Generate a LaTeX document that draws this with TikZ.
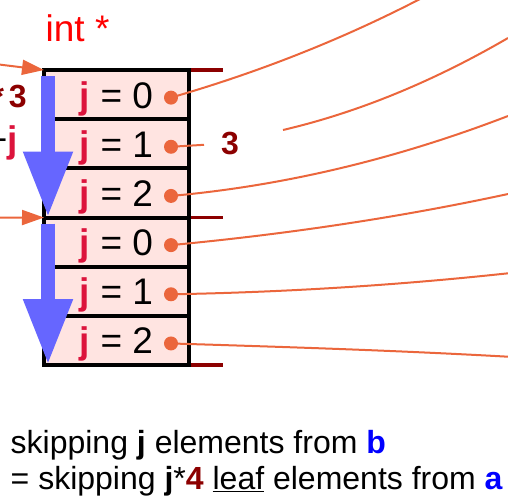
\documentclass[tikz,border=0pt]{standalone}
\usepackage{fontspec}
\setmainfont{Liberation Sans}
\usetikzlibrary{arrows.meta,positioning}
\definecolor{ptrorange}{RGB}{235,102,60}
\definecolor{cellpink}{RGB}{255,228,225}
\definecolor{stepblue}{RGB}{102,102,255}
\definecolor{darkred}{RGB}{140,0,0}
\definecolor{idxred}{RGB}{220,20,60}
\definecolor{typered}{RGB}{255,0,0}

\begin{document}
\begin{tikzpicture}[
    x=1pt, y=-1pt,
    node distance=0pt,
    cell/.style={draw, line width=4pt, fill=cellpink, minimum width=145pt, minimum height=49.17pt, inner sep=0pt, outer sep=0pt, text height=27pt, text depth=0pt, font=\fontsize{37}{44}\selectfont},
    dot/.style={circle, fill=ptrorange, minimum size=14pt, inner sep=0pt},
    wire/.style={ptrorange, line width=2pt},
    ptr/.style={ptrorange, line width=2pt, -{Triangle[length=22pt, width=15pt]}},
    stride/.style={stepblue, line width=14pt, -{Triangle[length=66pt, width=46pt]}},
    tick/.style={darkred, line width=3.5pt},
    lbl/.style={inner sep=0pt, font=\fontsize{32}{38}\selectfont},
    big/.style={inner sep=0pt, font=\fontsize{37}{44}\selectfont}
]
\useasboundingbox (0,0) rectangle (508,496);
\clip (0,0) rectangle (508,496);

% the six elements of b
\node[cell] (row1) at (116.5,94.6) {{\color{idxred}\bfseries j} = 0};
\node[cell, below=of row1] (row2) {{\color{idxred}\bfseries j} = 1};
\node[cell, below=of row2] (row3) {{\color{idxred}\bfseries j} = 2};
\node[cell, below=of row3] (row4) {{\color{idxred}\bfseries j} = 0};
\node[cell, below=of row4] (row5) {{\color{idxred}\bfseries j} = 1};
\node[cell, below=of row5] (row6) {{\color{idxred}\bfseries j} = 2};

\node[big, anchor=base west, text=typered] (ptype) at (45.5,41) {int *};

% strides
\draw[stride] ([xshift=4pt, yshift=-6pt]row1.north west) -- ([xshift=4pt]row4.north west);
\draw[stride] ([xshift=4pt, yshift=-6pt]row4.north west) -- ([xshift=4pt]row6.south west);

\coordinate (inA) at (-5,64);
\coordinate (inB) at (-5,217.5);
\draw[ptr] (inA) -- (row1.north west);
\draw[ptr] (inB) -- (row4.north west);

\draw[tick] ([xshift=2pt]row1.north east) -- ++(32,0);
\draw[tick] ([xshift=2pt]row3.south east) -- ++(32,0);
\draw[tick] ([xshift=2pt]row6.south east) -- ++(32,0);

\node[lbl, anchor=base east, text=darkred] (scale) at (27,107) {\bfseries *\kern5pt 3};
\node[big, anchor=base east] (offs) at (18,152) {+{\color{idxred}\bfseries j}};

% pointers to the leaves
\foreach \i in {1,...,6}
    \node[dot] (dot\i) at ([xshift=-18pt, yshift=-3pt]row\i.east) {};

\coordinate (endA) at (420,-1);
\coordinate (gapL) at (204,144.8);
\coordinate (gapR) at (283,130);
\coordinate (endB) at (508,38);
\coordinate (endC) at (508,116);
\coordinate (endD) at (508,194);
\coordinate (endE) at (508,273.3);
\coordinate (endF) at (508,356.7);
\draw[wire] (dot1.center) .. controls (254,73.6) and (337,41.9) .. (endA);
\draw[wire] (dot2.center) -- (gapL);
\draw[wire] (gapR) .. controls (358,112.4) and (433,81.6) .. (endB);
\draw[wire] (dot3.center) .. controls (283.3,185.9) and (395.7,159.2) .. (endC);
\draw[wire] (dot4.center) .. controls (283.3,234.5) and (395.7,218.2) .. (endD);
\draw[wire] (dot5.center) .. controls (283.3,292.3) and (395.7,285.4) .. (endE);
\draw[wire] (dot6.center) .. controls (283.3,346.9) and (395.7,350.4) .. (endF);

\node[lbl, anchor=base west, text=darkred] (three) at (221,154) {\bfseries 3};

\node[lbl, anchor=base west] (note1) at (10.5,453) {skipping \textbf{j} elements from \textbf{\color{blue}b}};
\node[lbl, anchor=base west] (note2) at (10.5,489) {= skipping \textbf{j}*\textbf{\color{darkred}4} \underline{leaf} elements from \textbf{\color{blue}a}};
\end{tikzpicture}
\end{document}
